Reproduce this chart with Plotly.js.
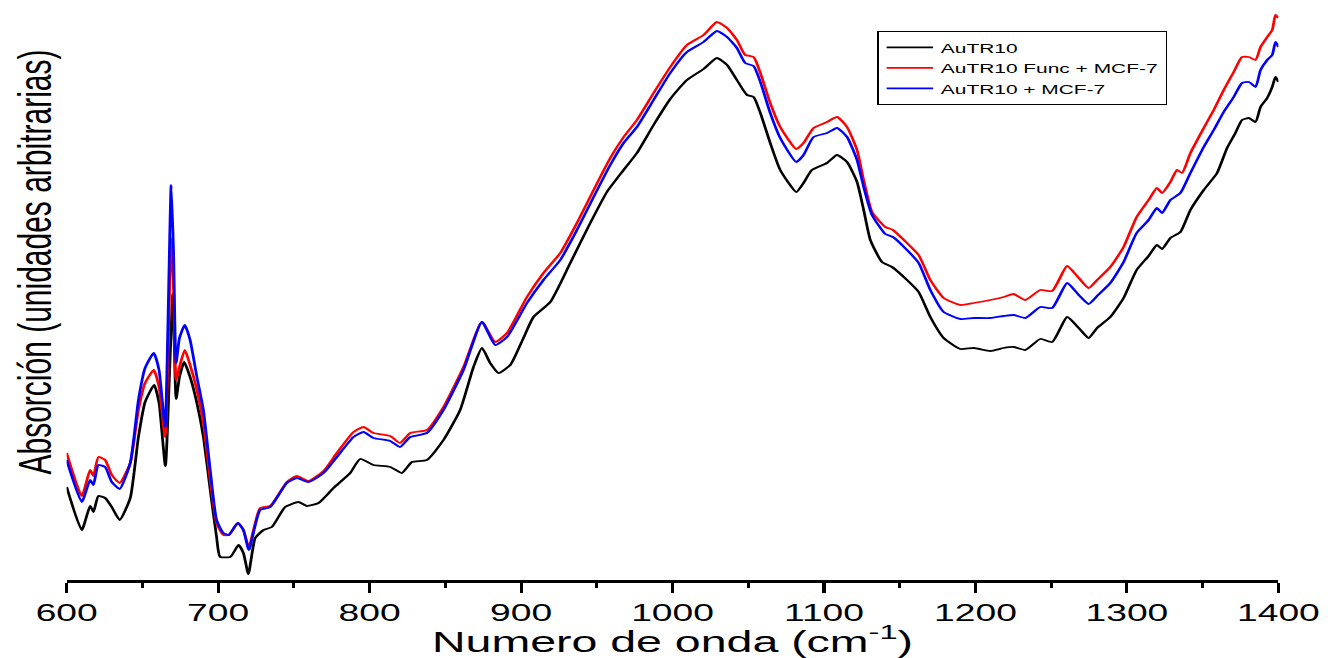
<!DOCTYPE html>
<html>
<head>
<meta charset="utf-8">
<script src="https://cdn.plot.ly/plotly-3.0.1.min.js"></script>
<style>
  html, body { margin: 0; padding: 0; background: #ffffff; overflow: hidden; }
  #wrap { width: 1328px; height: 658px; overflow: hidden; }
  #chart { width: 857px; height: 658px; transform: scaleX(1.54959); transform-origin: 0 0; }
</style>
</head>
<body>
<div id="wrap"><div id="chart"></div></div>
<script>
// Wavenumber (cm-1) and absorption (arbitrary units)
const wnAuTR10 = [600,610,615.5,617.7,621,625.4,629.8,635,642,647.4,651.8,657.8,661,665.2,668,670.1,672.3,674.5,677.6,681.5,686,690.3,694.8,699,701.4,708,713.5,716.7,720,724.5,730,735.5,744.3,753,758.6,766.3,776.2,787.2,793.8,802.6,813.6,821.3,828,837.8,848.8,859.8,868.6,874.2,879.6,885.1,892.9,901.6,908.2,919.3,932.5,945.7,956.7,967.7,976.5,987.5,998.5,1009.5,1020.5,1029.3,1036,1042.5,1049.2,1053.5,1058,1064.5,1071.1,1081.7,1086.5,1092,1102,1108.6,1115.2,1121.8,1126.2,1130.6,1138.3,1144.9,1154.8,1162.5,1170.2,1179,1190,1198.8,1209.8,1218.6,1225.2,1232.9,1242.8,1250.6,1260.5,1268.2,1274.7,1280.3,1289,1297.8,1306.4,1314.3,1319.8,1323.2,1328.7,1335.3,1341.9,1350.7,1359.5,1366.1,1371.6,1376,1380.5,1384.9,1388.2,1392.6,1395.9,1398.1,1400];
const absAuTR10 = [0.93,0.50,0.74,0.68,0.84,0.82,0.73,0.60,0.82,1.43,1.78,1.95,1.77,1.14,2.10,2.86,1.81,2.03,2.18,2.03,1.77,1.43,0.90,0.43,0.23,0.23,0.35,0.27,0.06,0.42,0.50,0.53,0.73,0.78,0.74,0.77,0.92,1.07,1.21,1.15,1.13,1.07,1.18,1.20,1.40,1.70,2.13,2.32,2.17,2.07,2.15,2.42,2.63,2.78,3.17,3.57,3.88,4.10,4.27,4.55,4.81,5.00,5.11,5.22,5.15,5.00,4.85,4.83,4.67,4.37,4.10,3.88,3.97,4.10,4.17,4.25,4.18,3.98,3.70,3.40,3.18,3.13,3.00,2.88,2.63,2.42,2.31,2.32,2.29,2.32,2.33,2.30,2.41,2.38,2.63,2.52,2.42,2.52,2.63,2.82,3.10,3.24,3.35,3.31,3.42,3.48,3.70,3.90,4.07,4.32,4.47,4.60,4.62,4.58,4.73,4.82,4.93,5.03,4.98];

const wnFunc = [600,610,615.5,617.7,621,625.4,629.8,635,642,647.4,651.8,657.5,661,665,666.7,669,670.6,672.3,674.5,678,681.5,686,690.3,694.8,699,703.5,707,713,716.7,720.3,727.8,734.4,745.4,752,759.7,769.6,778.4,789.4,796,802.6,813.6,820,826.9,837.8,848.8,862,874.2,883,890.7,903.9,914.8,925.9,936.9,947.9,958.9,967.7,976.5,987.5,998.5,1009.5,1020.5,1029.3,1036,1042.5,1048,1053.5,1058,1064.5,1071.1,1081.7,1086.5,1093.1,1102,1108.6,1115.2,1121.8,1126.2,1131.7,1140.5,1145.5,1154.8,1162.5,1170.2,1179,1190,1198.8,1209.8,1218.6,1225.2,1232.9,1242.8,1250.6,1260.5,1268.2,1274.7,1280.3,1289,1297.8,1306.4,1314.3,1319.8,1323.2,1328.7,1333.1,1336.4,1341.9,1350.7,1357.3,1363.9,1370.5,1376,1380.5,1384.9,1388.2,1392.6,1395.9,1398.1,1400];
const absFunc = [1.27,0.84,1.10,1.04,1.23,1.20,1.05,0.97,1.17,1.70,1.97,2.10,1.93,1.43,2.10,3.42,2.90,2.00,2.13,2.30,2.15,1.90,1.57,1.00,0.57,0.45,0.45,0.57,0.50,0.33,0.72,0.74,0.98,1.04,0.99,1.09,1.27,1.48,1.53,1.47,1.44,1.37,1.47,1.50,1.73,2.13,2.58,2.38,2.47,2.83,3.07,3.27,3.57,3.90,4.22,4.43,4.60,4.87,5.13,5.35,5.45,5.58,5.52,5.40,5.25,5.23,5.07,4.77,4.53,4.31,4.37,4.52,4.58,4.63,4.53,4.30,4.00,3.68,3.53,3.50,3.37,3.25,3.00,2.82,2.75,2.77,2.80,2.83,2.86,2.80,2.90,2.89,3.14,3.02,2.92,3.00,3.13,3.33,3.63,3.80,3.92,3.87,3.98,4.10,4.07,4.27,4.52,4.70,4.90,5.08,5.23,5.23,5.20,5.33,5.43,5.50,5.65,5.62];

const wnMCF = [600,610,615.5,617.7,621,625.4,629.8,635,642,647.4,651.8,657.5,661,665,666.7,669,670.6,672.3,674.5,678,681.5,686,690.3,694.8,699,703.5,707,713,716.7,720.3,727.8,734.4,745.4,752,759.7,769.6,778.4,789.4,796,802.6,813.6,820,826.9,837.8,848.8,862,874.2,883,890.7,903.9,914.8,925.9,936.9,947.9,958.9,967.7,976.5,987.5,998.5,1009.5,1020.5,1029.3,1036,1042.5,1048,1053.5,1058,1064.5,1071.1,1081.7,1086.5,1093.1,1102,1108.6,1115.2,1121.8,1126.2,1131.7,1140.5,1145.5,1154.8,1162.5,1170.2,1179,1190,1198.8,1209.8,1218.6,1225.2,1232.9,1242.8,1250.6,1260.5,1268.2,1274.7,1280.3,1289,1297.8,1306.4,1314.3,1319.8,1323.2,1328.7,1335.3,1341.9,1350.7,1357.3,1363.9,1370.5,1376,1380.5,1384.9,1388.2,1392.6,1395.9,1398.1,1400];
const absMCF = [1.20,0.78,1.00,0.95,1.15,1.13,0.98,0.91,1.17,1.80,2.12,2.27,2.10,1.53,2.43,3.95,3.27,2.17,2.42,2.55,2.40,2.03,1.70,1.10,0.60,0.47,0.45,0.57,0.50,0.30,0.70,0.73,0.97,1.02,0.98,1.07,1.23,1.43,1.48,1.42,1.39,1.33,1.43,1.47,1.70,2.10,2.58,2.35,2.43,2.77,3.00,3.20,3.50,3.83,4.15,4.37,4.53,4.80,5.07,5.28,5.38,5.49,5.43,5.32,5.17,5.14,4.98,4.67,4.42,4.18,4.25,4.43,4.47,4.52,4.43,4.20,3.93,3.65,3.46,3.43,3.30,3.17,2.90,2.68,2.61,2.62,2.62,2.64,2.65,2.62,2.73,2.72,2.97,2.85,2.76,2.84,2.97,3.18,3.47,3.60,3.72,3.67,3.80,3.87,4.07,4.33,4.50,4.68,4.83,4.97,4.98,4.93,5.10,5.20,5.25,5.38,5.33];

const seriesNames = ['AuTR10', 'AuTR10 Func + MCF-7', 'AuTR10 + MCF-7'];
const seriesColors = ['#000000', '#ff0000', '#0000ff'];
const xTickVals = [600, 700, 800, 900, 1000, 1100, 1200, 1300, 1400];
const xTickText = ['600', '700', '800', '900', '1000', '1100', '1200', '1300', '1400'];

const FONT = 'Arial, "Liberation Sans", sans-serif';

const xs = [wnAuTR10, wnFunc, wnMCF];
const ys = [absAuTR10, absFunc, absMCF];
const traces = seriesNames.map((n, i) => ({
  type: 'scatter',
  mode: 'lines',
  name: n,
  x: xs[i],
  y: ys[i],
  line: { color: seriesColors[i], width: 1.8, shape: 'spline', smoothing: 0.5 }
}));

const layout = {
  width: 857,
  height: 658,
  margin: { l: 43, r: 32, t: 10, b: 78 },
  paper_bgcolor: '#ffffff',
  plot_bgcolor: '#ffffff',
  font: { family: FONT, color: '#000000' },
  showlegend: true,
  legend: {
    x: 0.669, y: 0.963, xanchor: 'left', yanchor: 'top',
    bgcolor: '#ffffff', bordercolor: '#000000', borderwidth: 1,
    font: { family: FONT, size: 13.5, color: '#000000' },
    tracegroupgap: 0, itemwidth: 30
  },
  xaxis: {
    range: [600, 1400],
    tickmode: 'array', tickvals: xTickVals, ticktext: xTickText,
    showline: true, linecolor: '#000000', linewidth: 2.5,
    ticks: 'outside', ticklen: 10, tickwidth: 2, tickcolor: '#000000',
    minor: { dtick: 50, tick0: 600, ticks: 'outside', ticklen: 5, tickwidth: 2, tickcolor: '#000000', showgrid: false },
    showgrid: false, zeroline: false,
    tickfont: { family: FONT, size: 24, color: '#000000' },
    title: { text: 'Numero de onda (cm<sup>-1</sup>)', font: { family: FONT, size: 30, color: '#000000' }, standoff: 7 }
  },
  yaxis: {
    range: [0, 5.7],
    visible: false
  },
  annotations: [{
    text: 'Absorción (unidades arbitrarias)',
    xref: 'paper', yref: 'paper',
    x: -0.026, y: 0.558, xanchor: 'center', yanchor: 'middle',
    textangle: -90, showarrow: false,
    font: { family: FONT, size: 30, color: '#000000' }
  }]
};

Plotly.newPlot('chart', traces, layout, { displayModeBar: false, staticPlot: true });
</script>
</body>
</html>
